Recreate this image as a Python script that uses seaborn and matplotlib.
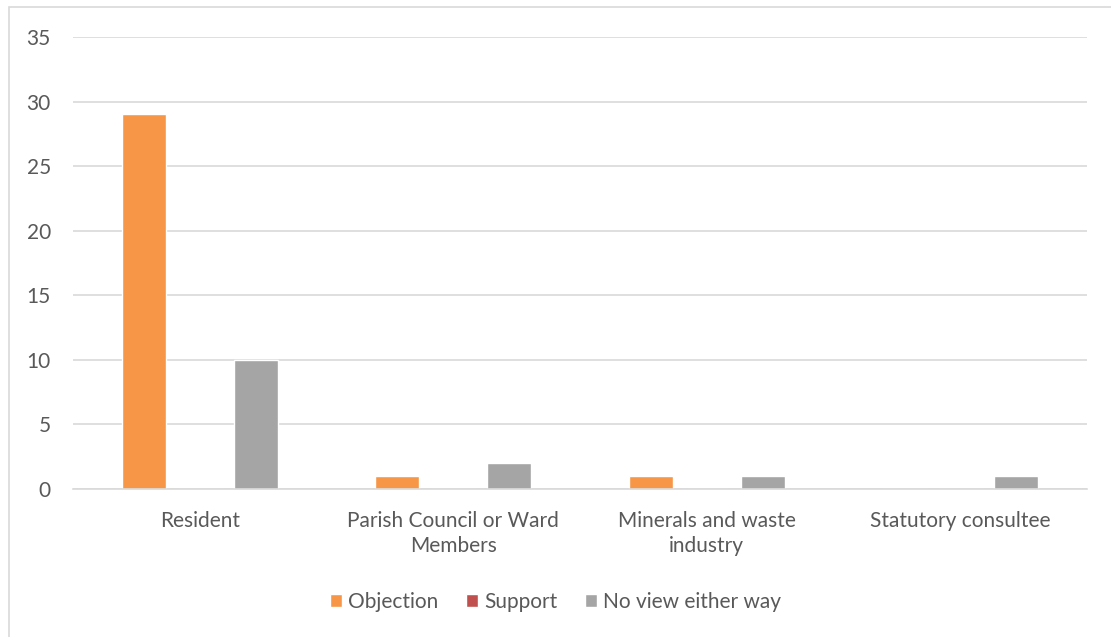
import pandas as pd
import numpy as np
import seaborn as sns
import matplotlib.pyplot as plt
from matplotlib.patches import Rectangle

sns.set_style('white')
plt.rcParams['font.family'] = ['Lato', 'DejaVu Sans']

categories = ['Resident', 'Parish Council or Ward\nMembers', 'Minerals and waste\nindustry', 'Statutory consultee']
series = ['Objection', 'Support', 'No view either way']
objection = [29, 1, 1, 0]
support = [0, 0, 0, 0]
no_view = [10, 2, 1, 1]
yticks = [0, 5, 10, 15, 20, 25, 30, 35]

colors = ['#F79646', '#C0504D', '#A5A5A5']
text_col = '#595959'
grid_col = '#D9D9D9'

df = pd.DataFrame({
    'category': categories * 3,
    'series': [series[0]] * 4 + [series[1]] * 4 + [series[2]] * 4,
    'value': objection + support + no_view,
})

fig = plt.figure(figsize=(11.11, 6.37), dpi=100)
ax = fig.add_axes([73 / 1111, 1 - 489 / 637, (1087 - 73) / 1111, (489 - 37) / 637])

sns.barplot(data=df, x='category', y='value', hue='series', palette=colors,
            width=0.663, gap=0.21, ax=ax, legend=True, saturation=1)

ax.set_ylim(0, 35)
ax.set_yticks(yticks)
ax.set_xlim(-0.5, 3.5)
ax.yaxis.grid(True, color=grid_col, linewidth=1.2)
ax.set_axisbelow(True)
for s in ['top', 'right', 'left']:
    ax.spines[s].set_visible(False)
ax.spines['bottom'].set_color(grid_col)
ax.spines['bottom'].set_linewidth(1.2)
ax.tick_params(axis='both', length=0, labelsize=15, labelcolor=text_col)
ax.tick_params(axis='y', pad=16)
ax.tick_params(axis='x', pad=16)
for lbl in ax.get_xticklabels():
    lbl.set_linespacing(1.3)
ax.set_xlabel('')
ax.set_ylabel('')

handles, labels = ax.get_legend_handles_labels()
ax.legend(handles, labels, loc='center', bbox_to_anchor=(0.5, (637 - 602) / 637),
          bbox_transform=fig.transFigure, ncol=3, frameon=False, fontsize=15,
          labelcolor=text_col, handlelength=0.6, handleheight=0.6,
          handletextpad=0.3, columnspacing=1.3)

# chart area border
fig.patches.append(Rectangle((9 / 1111, -0.1), 1.2, 1 - 7 / 637 + 0.1,
                             transform=fig.transFigure, fill=False,
                             edgecolor=grid_col, linewidth=1.2))

fig.savefig('out.png', dpi=100)
